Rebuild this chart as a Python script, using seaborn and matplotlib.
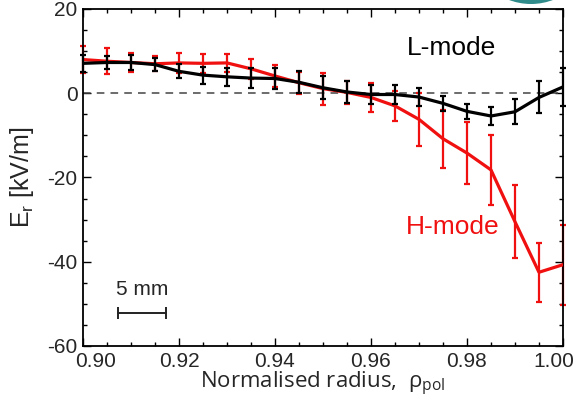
import numpy as np
import pandas as pd
import matplotlib
matplotlib.use("Agg")
import matplotlib.pyplot as plt
import matplotlib.transforms as mtransforms
import seaborn as sns
from matplotlib.ticker import MultipleLocator, FormatStrFormatter
from matplotlib.patches import Circle

# ---- data ----
rho = [0.900, 0.905, 0.910, 0.915, 0.920, 0.925, 0.930, 0.935, 0.940, 0.945, 0.950,
       0.955, 0.960, 0.965, 0.970, 0.975, 0.980, 0.985, 0.990, 0.995, 1.000]
er_l = [7.1, 7.3, 7.3, 6.8, 5.2, 4.3, 3.9, 3.6, 3.5, 2.6, 1.3,
        0.3, -0.3, -0.3, -0.9, -2.4, -4.3, -5.4, -4.4, -1.0, 1.5]
err_l = [2.0, 1.5, 1.7, 1.6, 1.7, 2.0, 2.2, 2.3, 2.5, 2.6, 2.7,
         2.5, 2.3, 2.3, 2.2, 1.8, 1.8, 2.1, 3.0, 3.8, 4.6]
er_h = [8.0, 7.6, 7.3, 7.0, 7.2, 7.1, 7.2, 5.8, 4.1, 2.5, 1.1,
        0.2, -1.0, -3.0, -6.2, -10.8, -14.2, -18.2, -30.5, -42.5, -40.7]
err_h = [3.2, 3.1, 2.3, 1.8, 2.3, 2.3, 2.2, 2.4, 2.6, 2.6, 3.8,
         2.7, 3.5, 3.6, 6.3, 6.9, 7.4, 8.4, 8.6, 7.0, 9.5]
x_ticks = [0.90, 0.92, 0.94, 0.96, 0.98, 1.00]
y_ticks = [-60, -40, -20, 0, 20]

df = pd.DataFrame({"rho": rho * 2,
                   "Er": er_h + er_l,
                   "err": err_h + err_l,
                   "mode": ["H-mode"] * len(rho) + ["L-mode"] * len(rho)})

sns.set_theme(style="ticks")
plt.rcParams["font.family"] = ["Liberation Sans", "DejaVu Sans"]
plt.rcParams["axes.unicode_minus"] = False

fig = plt.figure(figsize=(5.77, 3.98), dpi=100)
ax = fig.add_axes([0.1438, 0.1307, 0.8319, 0.8467])

RED = "#f01010"
colors = {"H-mode": RED, "L-mode": "black"}

ax.axhline(0, color="#444444", lw=1.1, ls=(0, (5, 4)), zorder=1)

for mode in ["H-mode", "L-mode"]:
    sub = df[df["mode"] == mode]
    ax.errorbar(sub["rho"], sub["Er"], yerr=sub["err"], fmt="none",
                ecolor=colors[mode], elinewidth=1.6, capsize=2.4, capthick=1.6,
                zorder=2 if mode == "H-mode" else 4, clip_on=False)
    sns.lineplot(data=sub, x="rho", y="Er", color=colors[mode], lw=2.3, ax=ax,
                 zorder=3 if mode == "H-mode" else 5, legend=False)

ax.set_xlim(0.90, 1.00)
ax.set_ylim(-60, 20)
ax.set_xticks(x_ticks)
ax.set_yticks(y_ticks)
ax.xaxis.set_major_formatter(FormatStrFormatter("%.2f"))
ax.xaxis.set_minor_locator(MultipleLocator(0.005))
ax.yaxis.set_minor_locator(MultipleLocator(5))
ax.tick_params(which="both", direction="in", top=True, right=True,
               labelsize=15, color="black", width=1.0)
ax.tick_params(axis="x", which="major", pad=4)
ax.tick_params(axis="y", which="major", pad=4)
ax.tick_params(which="major", length=5.5)
ax.tick_params(which="minor", length=3)
for s in ax.spines.values():
    s.set_linewidth(1.3)
    s.set_color("black")

# shift first / last x tick labels inward like the reference
xt = ax.xaxis.get_major_ticks()
xt[0].label1.set_transform(xt[0].label1.get_transform() +
                           mtransforms.ScaledTranslation(13 / 100, 0, fig.dpi_scale_trans))
xt[-1].label1.set_transform(xt[-1].label1.get_transform() +
                            mtransforms.ScaledTranslation(-9 / 100, 0, fig.dpi_scale_trans))

ax.set_xlabel(r"Normalised radius,  ρ$_\mathregular{pol}$", fontsize=16,
              family=["Open Sans", "DejaVu Sans"], labelpad=-0.5)
ax.set_ylabel(r"E$_\mathregular{r}$ [kV/m]", fontsize=18, labelpad=8)

ax.text(0.9675, 9.0, "L-mode", fontsize=19, color="black")
ax.text(0.9673, -33.5, "H-mode", fontsize=19, color=RED)

# 5 mm scale bar
ax.plot([0.9073, 0.9173], [-52.1, -52.1], color="#222222", lw=1.4)
ax.plot([0.9073, 0.9173], [-52.1, -52.1], ls="none", marker="|", ms=9,
        mew=1.4, color="#222222")
ax.text(0.9123, -48.8, "5 mm", fontsize=15, ha="center", va="bottom")

fig.patches.append(Circle((531, 398 + 58), 62, transform=None,
                          facecolor="#2f8a8a", edgecolor="none"))

fig.savefig("out.png", dpi=100)
